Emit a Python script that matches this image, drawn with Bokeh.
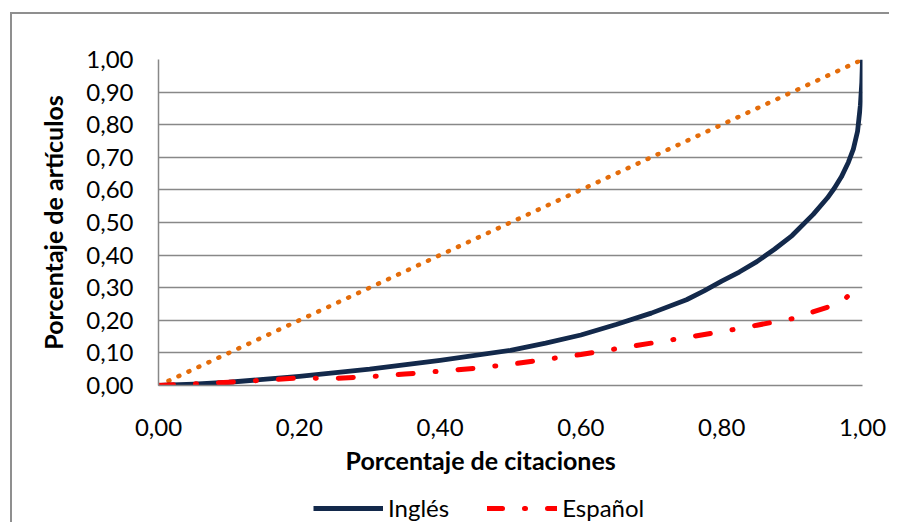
from bokeh.plotting import figure
from bokeh.layouts import column
from bokeh.models import (Range1d, FixedTicker, Legend, LegendItem, Title)
from bokeh.embed import file_html
from bokeh.resources import INLINE

# ---- data ----
ingles_x = [0, 0.05, 0.1, 0.2, 0.3, 0.4, 0.5, 0.55, 0.6, 0.65, 0.7, 0.75,
            0.775, 0.8, 0.825, 0.85, 0.875, 0.9, 0.93, 0.95, 0.96, 0.97, 0.98,
            0.987, 0.993, 0.997, 0.999, 1.0]
ingles_y = [0, 0.004, 0.01, 0.028, 0.05, 0.077, 0.108, 0.13, 0.155, 0.187,
            0.222, 0.263, 0.29, 0.32, 0.348, 0.38, 0.418, 0.46, 0.525, 0.575,
            0.605, 0.64, 0.685, 0.725, 0.78, 0.86, 0.93, 1.0]

espanol_x = [0, 0.1, 0.2, 0.25, 0.3, 0.35, 0.4, 0.45, 0.5, 0.6, 0.7, 0.8,
             0.85, 0.9, 0.95, 0.975, 1.0]
espanol_y = [0, 0.01, 0.023, 0.022, 0.027, 0.035, 0.044, 0.053, 0.065, 0.095,
             0.13, 0.165, 0.185, 0.205, 0.24, 0.265, 0.32]

igualdad_x = [0, 1]
igualdad_y = [0, 1]

tick_values = [0, 0.1, 0.2, 0.3, 0.4, 0.5, 0.6, 0.7, 0.8, 0.9, 1.0]
tick_labels = ["0,00", "0,10", "0,20", "0,30", "0,40", "0,50", "0,60",
               "0,70", "0,80", "0,90", "1,00"]
x_tick_values = [0, 0.2, 0.4, 0.6, 0.8, 1.0]
x_tick_labels = ["0,00", "0,20", "0,40", "0,60", "0,80", "1,00"]

series_names = ["Inglés", "Español"]
x_title = "Porcentaje de citaciones"
y_title = "Porcentaje de artículos"

FONT = "Lato"
GRID = "#888888"
NAVY = "#13294B"
RED = "#FF0000"
ORANGE = "#E46C0A"
ING_STYLE = dict(line_color=NAVY, line_width=4.8, line_join="round")
ESP_STYLE = dict(line_color=RED, line_width=5, line_dash="15 22 1 22",
                 line_cap="round", line_join="round")

p = figure(width=877, height=478, output_backend="svg", toolbar_location=None,
           x_range=Range1d(0, 1), y_range=Range1d(0, 1),
           min_border_left=146, min_border_right=27,
           min_border_top=45, min_border_bottom=107)
p.outline_line_color = None
p.background_fill_color = "white"
p.border_fill_color = "white"

# grid
p.xgrid.visible = False
p.ygrid.ticker = FixedTicker(ticks=tick_values)
p.ygrid.grid_line_color = GRID
p.ygrid.grid_line_width = 1.5

# axes
p.yaxis.ticker = FixedTicker(ticks=tick_values)
p.yaxis.major_label_overrides = {v: s for v, s in zip(tick_values, tick_labels)}
p.xaxis.ticker = FixedTicker(ticks=x_tick_values)
p.xaxis.major_label_overrides = {v: s for v, s in zip(x_tick_values, x_tick_labels)}
for ax in (p.xaxis[0], p.yaxis[0]):
    ax.axis_line_color = GRID
    ax.axis_line_width = 1.5
    ax.major_tick_line_color = None
    ax.minor_tick_line_color = None
    ax.major_tick_out = 0
    ax.major_tick_in = 0
    ax.major_label_text_font = FONT
    ax.major_label_text_font_size = "24px"
    ax.major_label_text_color = "black"
p.yaxis.major_label_standoff = 25
p.xaxis.major_label_standoff = 33

p.yaxis.axis_label = y_title
p.yaxis.axis_label_text_font = FONT
p.yaxis.axis_label_text_font_size = "25px"
p.yaxis.axis_label_text_font_style = "bold"
p.yaxis.axis_label_text_color = "black"
p.yaxis.axis_label_standoff = 15

p.add_layout(Title(text=x_title, align="left", offset=187, standoff=8,
                   text_font=FONT, text_font_size="25px",
                   text_font_style="bold", text_color="black"), "below")

# lines
p.line(igualdad_x, igualdad_y, line_color=ORANGE, line_width=4.5,
       line_dash="1 10", line_cap="round")
p.line(ingles_x, ingles_y, **ING_STYLE)
p.line(espanol_x, espanol_y, **ESP_STYLE)

# legend strip below the chart (series drawn out of its view, only keys show)
q = figure(width=877, height=30, output_backend="svg", toolbar_location=None,
           x_range=Range1d(0, 1), y_range=Range1d(5, 6),
           x_axis_type=None, y_axis_type=None,
           min_border_left=0, min_border_right=0,
           min_border_top=0, min_border_bottom=0)
q.grid.visible = False
q.outline_line_color = None
q.background_fill_color = "white"
q.border_fill_color = "white"
k_ing = q.line(ingles_x, ingles_y, **ING_STYLE)
k_esp = q.line(espanol_x, espanol_y, **ESP_STYLE)

legend = Legend(items=[LegendItem(label=series_names[0], renderers=[k_ing]),
                       LegendItem(label=series_names[1], renderers=[k_esp])],
                location=(155, 0), orientation="horizontal",
                glyph_width=70, glyph_height=28, label_height=28,
                label_standoff=5, spacing=38, padding=0, margin=0,
                label_text_font=FONT, label_text_font_size="24px",
                label_text_color="black", border_line_color=None,
                background_fill_alpha=0)
q.add_layout(legend, "center")

layout = column(p, q, margin=(12, 0, 0, 10), spacing=0,
                styles={"border-left": "2px solid #8f8f8f",
                        "border-top": "2px solid #8f8f8f"})

open("out.html", "w").write(file_html(layout, INLINE))
